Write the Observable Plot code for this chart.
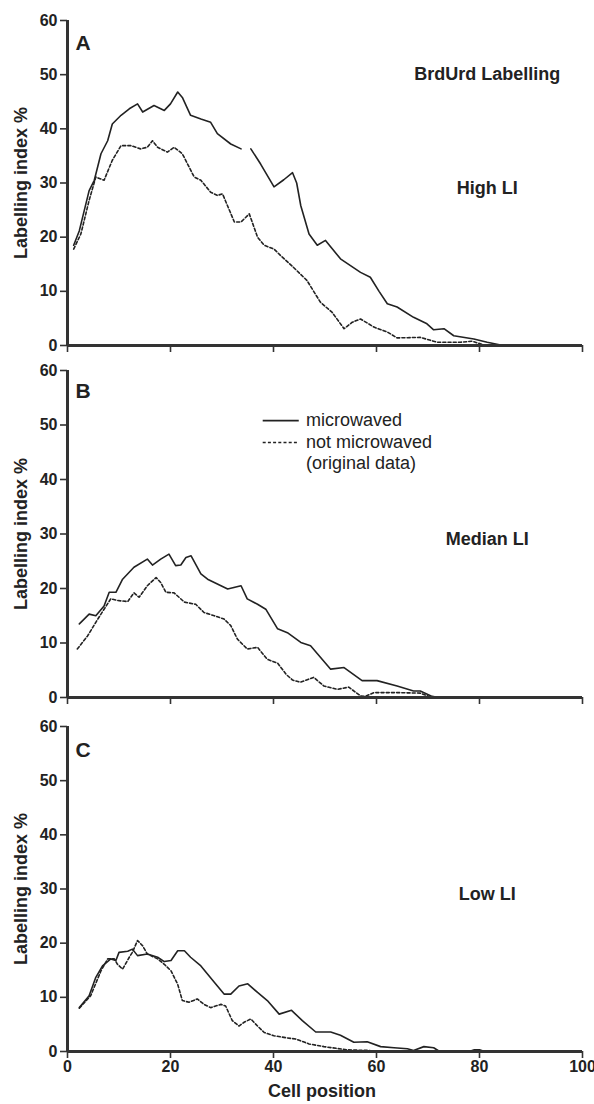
<!DOCTYPE html>
<html><head><meta charset="utf-8">
<script src="https://cdn.jsdelivr.net/npm/d3@7"></script>
<script src="https://cdn.jsdelivr.net/npm/@observablehq/plot@0.6"></script>
<style>
body{margin:0;background:#fff;}
#wrap{position:relative;width:594px;height:1104px;background:#fff;}
#wrap svg{position:absolute;left:0;}
</style></head><body><div id="wrap"></div>
<script>
// ---- tick labels / text ----
const xTicks = [0, 20, 40, 60, 80, 100];
const yTicks = [0, 10, 20, 30, 40, 50, 60];
const panelLetters = ["A", "B", "C"];
const panelTitles = ["High LI", "Median LI", "Low LI"];
const mainTitle = "BrdUrd Labelling";
const legendLabels = ["microwaved", "not microwaved", "(original data)"];
const yLabel = "Labelling index %";
const xLabel = "Cell position";

// ---- Panel A (High LI) ----
const aMwX = [1.2, 2.3, 4.2, 5.2, 6.5, 7.8, 8.7, 10.4, 12, 13.6, 14.6, 16.8, 18.8, 20, 21.4, 22.3, 23.9, 25.9, 27.8, 29.1, 31.7, 33.7, 34.6, 35.6, 37.5, 40.1, 42, 43.7, 44.5, 45.3, 46.9, 48.5, 50.1, 53, 56.9, 58.8, 60.5, 62.1, 64, 67.2, 69.8, 71.1, 73.1, 75, 78.9, 81.5, 84.1, 86];
const aMwY = [18.5, 21.2, 28.6, 30.5, 35.4, 37.8, 40.9, 42.5, 43.7, 44.6, 43.1, 44.3, 43.4, 44.6, 46.8, 45.8, 42.5, 41.8, 41.2, 39.1, 37.2, 36.3, null, 36.3, 33.5, 29.3, 30.6, 31.9, 30, 25.8, 20.6, 18.5, 19.4, 16, 13.5, 12.6, 10, 7.7, 7.1, 5.2, 4, 2.9, 3.1, 1.8, 1.2, 0.6, 0.1, 0];
const aNmX = [1.2, 2.6, 4.2, 5.5, 7.1, 8.7, 10.4, 12.3, 14.2, 15.5, 16.5, 17.5, 19.4, 20.7, 22.3, 24.6, 25.9, 27.8, 29.1, 30.1, 32.4, 33.7, 35.3, 36.9, 38.2, 40.1, 41.4, 43.9, 46.5, 49.1, 51.4, 53.7, 55.3, 56.9, 59.5, 62.1, 64, 68.5, 71.8, 76.3, 78.6, 80.8];
const aNmY = [17.8, 20.6, 26.8, 31.1, 30.5, 34.2, 36.9, 36.9, 36.3, 36.6, 37.8, 36.6, 35.7, 36.6, 35.4, 31.1, 30.5, 28.3, 27.7, 28, 22.8, 22.8, 24.3, 20, 18.5, 17.8, 16.6, 14.4, 12, 8, 6.1, 3.1, 4.3, 4.9, 3.4, 2.5, 1.4, 1.5, 0.6, 0.6, 0.8, 0.1];

// ---- Panel B (Median LI) ----
const bMwX = [2.3, 4.2, 5.5, 7.1, 8.1, 9.4, 10.7, 12.9, 15.5, 16.5, 18.1, 19.7, 21, 22, 23, 24, 25.9, 27.2, 28.5, 31.1, 33.7, 34.9, 36.9, 38.5, 40.8, 42.7, 45.3, 47.2, 51.1, 53.7, 57.2, 60.1, 64, 67.2, 68.5, 70.8, 72];
const bMwY = [13.5, 15.3, 15, 16.8, 19.3, 19.3, 21.7, 23.9, 25.4, 24.3, 25.4, 26.3, 24.2, 24.3, 25.7, 26, 22.7, 21.7, 21.1, 19.9, 20.5, 18.1, 17.1, 16.2, 12.6, 11.9, 10.1, 9.5, 5.2, 5.5, 3.1, 3.1, 2.1, 1.2, 1.2, 0.2, 0];
const bNmX = [1.9, 3.9, 5.5, 7.1, 8.4, 9.7, 11.7, 12.9, 13.9, 15.5, 17.2, 18.1, 19.1, 20.7, 22.7, 24.9, 26.5, 28.5, 30.4, 31.7, 33, 34.9, 36.9, 38.8, 40.8, 42.5, 43.7, 45.2, 47.8, 49.8, 52.4, 54.6, 56.9, 57.8, 59.5, 64, 68.5, 70.2, 71];
const bNmY = [8.9, 11.3, 13.8, 16.2, 18.1, 17.8, 17.6, 19.2, 18.4, 20.5, 22, 21.1, 19.3, 19.2, 17.5, 17.1, 15.6, 15, 14.4, 13.2, 10.7, 8.9, 9.2, 7, 6.3, 4.2, 3.2, 2.8, 3.7, 2.1, 1.5, 1.9, 0.3, 0.2, 0.9, 0.9, 0.8, 0.2, 0];

// ---- Panel C (Low LI) ----
const cMwX = [2.3, 4.2, 5.5, 6.8, 8.4, 9.4, 10, 11.7, 12.6, 13.6, 15.5, 17.5, 18.8, 20.1, 21.4, 22.7, 23.9, 25.9, 28.5, 30.4, 31.7, 33.3, 35, 36.9, 38.8, 41.1, 43.5, 45.6, 48.2, 51.1, 53, 55.6, 58.2, 60.8, 63.4, 66, 67.2, 69.2, 71.1, 72.1, 74, 78, 79, 80, 81];
const cMwY = [8.1, 10.3, 13.7, 15.8, 17.1, 16.8, 18.3, 18.5, 18.9, 17.7, 18, 17.4, 16.6, 16.8, 18.6, 18.6, 17.4, 15.8, 12.8, 10.6, 10.6, 12.1, 12.5, 10.9, 9.4, 6.9, 7.6, 5.7, 3.6, 3.6, 3.0, 1.7, 1.8, 0.9, 0.7, 0.5, 0.2, 0.9, 0.7, 0.1, 0, 0, 0.3, 0.3, 0];
const cNmX = [2.3, 4.5, 6.5, 7.8, 9.1, 9.7, 10.7, 12, 12.6, 13.6, 14.6, 15.5, 17.5, 18.8, 20.1, 21.4, 22.3, 23.6, 25.2, 26.5, 27.8, 29.8, 30.7, 32, 33.3, 34.3, 35.6, 36.9, 38.2, 40.1, 42.7, 44.3, 46.9, 49.8, 54.3, 58.2, 60];
const cNmY = [8, 10.3, 14.9, 17.1, 17.1, 16.1, 15.2, 17.4, 18.3, 20.5, 19.5, 18, 17.1, 16.1, 14.9, 12.4, 9.4, 9.1, 9.7, 8.7, 8.1, 8.7, 8.4, 5.7, 4.7, 5.4, 6.0, 4.7, 3.5, 2.9, 2.5, 2.3, 1.4, 0.9, 0.3, 0.2, 0];

const toRows = (xs, ys) => xs.map((x, i) => ({x, y: ys[i] == null ? NaN : ys[i]}));

const FONT = "'Liberation Sans', Arial, Helvetica, sans-serif";
const INK = "#222";

function panel(o) {
  const marks = [
    Plot.line(toRows(o.mwX, o.mwY), {x: "x", y: "y", stroke: INK, strokeWidth: 1.6, curve: "linear"}),
    Plot.line(toRows(o.nmX, o.nmY), {x: "x", y: "y", stroke: INK, strokeWidth: 1.6, strokeDasharray: "3,2.2"}),
    Plot.axisY({ticks: yTicks, tickSize: 7, tickPadding: 3, strokeWidth: 1.6, stroke: "#333", label: null, fontSize: 16, fontWeight: "bold"}),
    Plot.axisX({ticks: xTicks, tickSize: 7, tickPadding: 2, strokeWidth: 1.6, stroke: "#333", label: null, fontSize: 16, fontWeight: "bold",
      tickFormat: o.showXLabels ? (d => String(d)) : (() => "")}),
    Plot.ruleY([0], {stroke: "#333", strokeWidth: 3}),
    Plot.ruleX([0], {y1: 0, y2: 60, stroke: "#333", strokeWidth: 3}),
    Plot.text([o.letter], {frameAnchor: "top-left", dx: 8, dy: o.letterDy, lineAnchor: "top", textAnchor: "start", fontSize: 21, fontWeight: "bold", fill: INK}),
    Plot.text([yLabel], {frameAnchor: "left", dx: -46, rotate: -90, textAnchor: "middle", lineAnchor: "middle", fontSize: 18, fontWeight: "bold", fill: INK}),
    Plot.text([o.title], {x: 81.5, y: 29, fontSize: 18, fontWeight: "bold", fill: INK}),
    ...(o.extra || [])
  ];
  const svg = Plot.plot({
    width: 594,
    height: o.height,
    marginLeft: 67,
    marginRight: 12,
    marginTop: o.mt,
    marginBottom: o.mb,
    x: {domain: [0, 100]},
    y: {domain: [0, 60]},
    style: {fontFamily: FONT, color: INK, background: "white", overflow: "visible"},
    marks
  });
  svg.style.top = o.top + "px";
  document.getElementById("wrap").appendChild(svg);
}

panel({top: 0, height: 360, mt: 20, mb: 15, mwX: aMwX, mwY: aMwY, nmX: aNmX, nmY: aNmY,
  letter: panelLetters[0], letterDy: 15, title: panelTitles[0], showXLabels: false,
  extra: [Plot.text([mainTitle], {x: 81.5, y: 50, fontSize: 18, fontWeight: "bold", fill: INK})]});

panel({top: 355, height: 360, mt: 15, mb: 18, mwX: bMwX, mwY: bMwY, nmX: bNmX, nmY: bNmY,
  letter: panelLetters[1], letterDy: 13, title: panelTitles[1], showXLabels: false,
  extra: [
    Plot.ruleY([50.8], {x1: 38, x2: 45, stroke: INK, strokeWidth: 1.6}),
    Plot.ruleY([46.8], {x1: 38, x2: 45, stroke: INK, strokeWidth: 1.6, strokeDasharray: "3,2.2"}),
    Plot.text(legendLabels, {x: 46.3, y: (d, i) => [50.8, 46.8, 42.9][i], textAnchor: "start", fontSize: 18, fontWeight: "normal", fill: INK})
  ]});

panel({top: 710, height: 394, mt: 16, mb: 53, mwX: cMwX, mwY: cMwY, nmX: cNmX, nmY: cNmY,
  letter: panelLetters[2], letterDy: 16, title: panelTitles[2], showXLabels: true,
  extra: [Plot.text([xLabel], {frameAnchor: "bottom", dx: -3, dy: 40, lineAnchor: "middle", fontSize: 18, fontWeight: "bold", fill: INK})]});
</script></body></html>
